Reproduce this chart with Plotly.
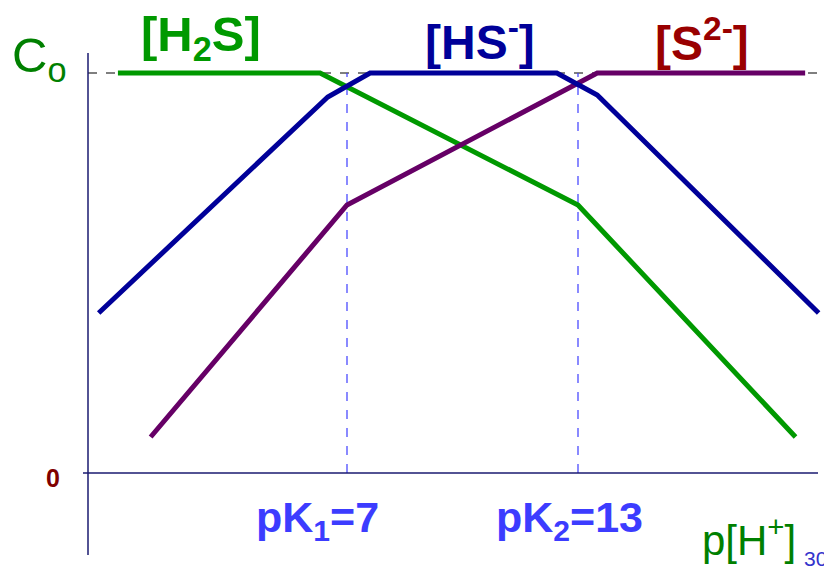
import plotly.graph_objects as go

# ---- data (pH units, relative log-concentration units; Co = 10, 0 at baseline) ----
pK_values = [7, 13]
co_level = 10

h2s_ph = [1.05, 6.3, 13.0, 18.65]
h2s_logc = [10, 10, 6.7, 0.9]

hs_ph = [0.55, 6.5, 7.6, 12.45, 13.5, 19.25]
hs_logc = [4.0, 9.4, 10, 10, 9.45, 4.0]

s2_ph = [1.9, 7.0, 13.5, 18.9]
s2_logc = [0.9, 6.7, 10, 10]

# page has an 8px body margin -> figure drawn from (8,8)
OFF = 8
SW, SH = 832, 573
W, H = SW - OFF, SH - OFF

px_per_ph = 38.5
x0_px = 347 - 7 * px_per_ph
px_per_unit = 40.0

def px2x(px):
    return (px - x0_px) / px_per_ph

def py2y(py):
    return (473 - py) / px_per_unit

xr = [px2x(OFF), px2x(SW)]
yr = [py2y(SH), py2y(OFF)]

fig = go.Figure()

# dashed Co reference line
fig.add_trace(go.Scatter(x=[px2x(88), px2x(818)], y=[co_level, co_level], mode="lines",
                         line=dict(color="black", width=1.2, dash="dash"),
                         hoverinfo="skip", showlegend=False))
# pK dashed verticals
for pk in pK_values:
    fig.add_trace(go.Scatter(x=[pk, pk], y=[0, co_level], mode="lines",
                             line=dict(color="#3c3cff", width=1.2, dash="dash"),
                             hoverinfo="skip", showlegend=False))

fig.add_trace(go.Scatter(x=h2s_ph, y=h2s_logc, mode="lines", name="[H2S]",
                         line=dict(color="#009900", width=5), showlegend=False))
fig.add_trace(go.Scatter(x=s2_ph, y=s2_logc, mode="lines", name="[S2-]",
                         line=dict(color="#660066", width=5), showlegend=False))
fig.add_trace(go.Scatter(x=hs_ph, y=hs_logc, mode="lines", name="[HS-]",
                         line=dict(color="#000099", width=5), showlegend=False))

# axes lines
fig.add_shape(type="line", x0=px2x(88), x1=px2x(88), y0=py2y(53), y1=py2y(555),
              line=dict(color="#1a1a70", width=1.5))
fig.add_shape(type="line", x0=px2x(83), x1=px2x(818), y0=0, y1=0,
              line=dict(color="#1a1a70", width=1.5))

def ann(text, px, py, size, color, bold=False, xanchor="center"):
    fig.add_annotation(x=(px - OFF) / W, y=1 - (py - OFF) / H, xref="paper", yref="paper",
                       text=f"<b>{text}</b>" if bold else text,
                       showarrow=False, xanchor=xanchor, yanchor="middle",
                       font=dict(family="Liberation Sans, Arial", size=size, color=color))

ann("[H<sub>2</sub>S]", 201, 37, 49, "#009900", bold=True)
ann("[HS<sup>-</sup>]", 480, 39, 48, "#000099", bold=True)
ann("[S<sup>2-</sup>]", 702, 40, 48, "#990000", bold=True)
ann("C<sub>o</sub>", 39, 58, 49, "#008000")
ann("0", 53, 478, 25, "#800000", bold=True)
ann("pK<sub>1</sub>=7", 317, 520, 43, "#3c3cff", bold=True)
ann("pK<sub>2</sub>=13", 569, 520, 43, "#3c3cff", bold=True)
ann("p[H<sup>+</sup>]", 749, 537, 42, "#008000")
ann("30", 815, 558, 21, "#3333cc")

fig.update_layout(
    width=W, height=H, margin=dict(l=0, r=0, t=0, b=0),
    paper_bgcolor="white", plot_bgcolor="white",
    xaxis=dict(range=xr, visible=False, fixedrange=True),
    yaxis=dict(range=yr, visible=False, fixedrange=True),
)

fig.write_html("out.html")
